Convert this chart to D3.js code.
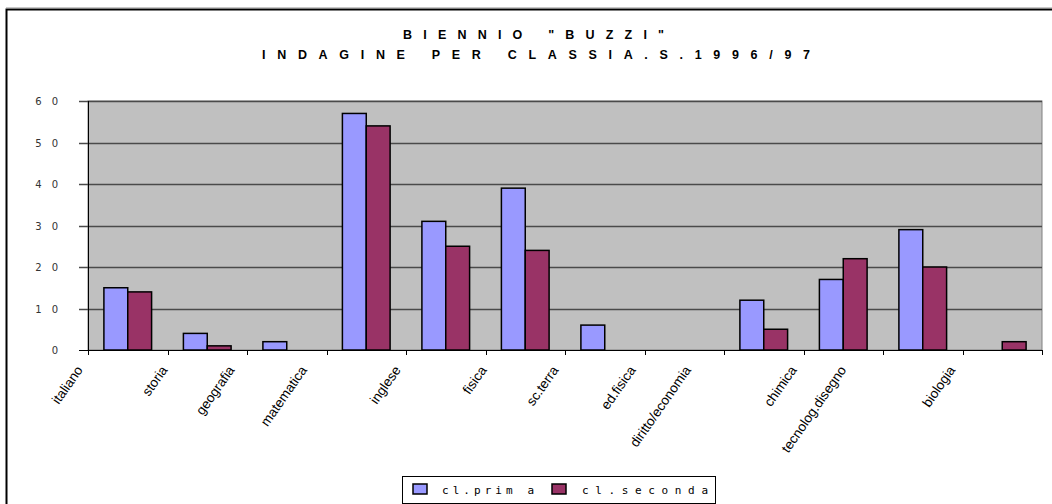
<!DOCTYPE html>
<html>
<head>
<meta charset="utf-8">
<script src="https://cdn.jsdelivr.net/npm/d3@7"></script>
<style>
  html, body { margin: 0; padding: 0; background: #fff; }
  svg { display: block; }
</style>
</head>
<body>
<svg id="chart" width="1052" height="504"></svg>
<script>
// Subjects (one group of bars per subject)
const categories = ["italiano", "storia", "geografia", "matematica", "inglese", "fisica",
  "sc.terra", "ed.fisica", "diritto/economia", "chimica", "tecnolog.disegno", "biologia"];
// Series values (null = no bar)
const clPrima   = [15, 4, 2, 57, 31, 39, 6, null, 12, 17, 29, null];
const clSeconda = [14, 1, null, 54, 25, 24, null, null, 5, 22, 20, 2];
const seriesNames = ["cl.prim a", "cl.seconda"];
const seriesColors = ["#9999FF", "#993366"];
const yTicks = [0, 10, 20, 30, 40, 50, 60];
const titleLines = ["BIENNIO \"BUZZI\"", "INDAGINE PER CLASSIA.S.1996/97"];

const svg = d3.select("#chart");

// Chart area frame (top and left edges visible)
svg.append("line").attr("x1", 6).attr("x2", 1052).attr("y1", 7.5).attr("y2", 7.5)
  .attr("stroke", "#c8c8c8").attr("stroke-width", 1);
svg.append("path").attr("d", "M6.5,504 V9.5 H1052")
  .attr("fill", "none").attr("stroke", "#000").attr("stroke-width", 2);

const plot = { left: 88, right: 1042, top: 101, bottom: 350 };

const x0 = d3.scaleBand().domain(categories).range([plot.left, plot.right]).padding(0);
const x1 = d3.scaleBand().domain(seriesNames)
  .range([x0.bandwidth() * 0.2, x0.bandwidth() * 0.8]).padding(0);
const y = d3.scaleLinear().domain([0, 60]).range([plot.bottom, plot.top]);

// Plot background
svg.append("rect")
  .attr("x", plot.left).attr("y", plot.top)
  .attr("width", plot.right - plot.left).attr("height", plot.bottom - plot.top)
  .attr("fill", "#C0C0C0").attr("stroke", "#808080").attr("stroke-width", 1);

// Horizontal gridlines with left tick marks
svg.append("g").selectAll("line").data(yTicks.filter(d => d > 0)).join("line")
  .attr("x1", plot.left - 9).attr("x2", plot.right)
  .attr("y1", d => Math.round(y(d)) + 0.5).attr("y2", d => Math.round(y(d)) + 0.5)
  .attr("stroke", "#4a4a4a").attr("stroke-width", 1.3);

// Y tick labels (spaced digits)
svg.append("g").selectAll("text").data(yTicks).join("text")
  .attr("x", 58).attr("y", d => y(d) + 4)
  .attr("text-anchor", "end")
  .attr("font-family", "DejaVu Sans, sans-serif").attr("font-size", 10)
  .attr("fill", "#333")
  .text(d => String(d).split("").join("\u2003"));

// Bars
const series = [clPrima, clSeconda];
const bars = [];
categories.forEach((c, i) => {
  series.forEach((s, k) => {
    if (s[i] != null) bars.push({ cat: c, name: seriesNames[k], value: s[i], color: seriesColors[k] });
  });
});
svg.append("g").selectAll("rect").data(bars).join("rect")
  .attr("x", d => x0(d.cat) + x1(d.name))
  .attr("y", d => y(d.value))
  .attr("width", x1.bandwidth())
  .attr("height", d => y(0) - y(d.value))
  .attr("fill", d => d.color)
  .attr("stroke", "#000").attr("stroke-width", 1.5);

// Axes lines
svg.append("line").attr("x1", plot.left - 9).attr("x2", plot.right)
  .attr("y1", plot.bottom + 0.5).attr("y2", plot.bottom + 0.5)
  .attr("stroke", "#000").attr("stroke-width", 1);
svg.append("line").attr("x1", plot.left + 0.5).attr("x2", plot.left + 0.5)
  .attr("y1", plot.top).attr("y2", plot.bottom + 5)
  .attr("stroke", "#000").attr("stroke-width", 1);

// X tick marks at category boundaries
const boundaries = categories.map(c => x0(c)).concat([plot.right]);
svg.append("g").selectAll("line").data(boundaries).join("line")
  .attr("x1", d => Math.round(d) + 0.5).attr("x2", d => Math.round(d) + 0.5)
  .attr("y1", plot.bottom).attr("y2", plot.bottom + 5)
  .attr("stroke", "#000").attr("stroke-width", 1);

// Rotated category labels; longer labels are pulled further left
const xl = svg.append("g").selectAll("text").data(categories).join("text")
  .attr("font-family", "Liberation Sans, Arial, sans-serif").attr("font-size", 13.5)
  .attr("fill", "#000")
  .attr("text-anchor", "end")
  .text(d => d);
xl.each(function (d) {
  const len = this.getComputedTextLength();
  const ax = x0(d) + 18 - 0.53 * len;
  const ay = plot.bottom + 20;
  d3.select(this).attr("transform", `translate(${ax},${ay}) rotate(-55)`);
});

// Title (wide letter spacing)
const titleWidths = [261, 548];
const titleStarts = [403, 262];
titleLines.forEach((t, i) => {
  svg.append("text")
    .attr("x", titleStarts[i]).attr("y", 39 + i * 20)
    .attr("font-family", "Liberation Sans, Arial, sans-serif").attr("font-size", 12.5)
    .attr("font-weight", "bold").attr("fill", "#000")
    .attr("textLength", titleWidths[i]).attr("lengthAdjust", "spacing")
    .text(t);
});

// Legend
const lg = svg.append("g");
lg.append("rect").attr("x", 402.5).attr("y", 476.5).attr("width", 313).attr("height", 27)
  .attr("fill", "#fff").attr("stroke", "#000").attr("stroke-width", 1);
const legendItems = [
  { name: seriesNames[0], color: seriesColors[0], sx: 413, tx: 442, tw: 92 },
  { name: seriesNames[1], color: seriesColors[1], sx: 552, tx: 582, tw: 126 }
];
legendItems.forEach(it => {
  lg.append("rect").attr("x", it.sx).attr("y", 484).attr("width", 14).attr("height", 10)
    .attr("fill", it.color).attr("stroke", "#000").attr("stroke-width", 1.5);
  lg.append("text").attr("x", it.tx).attr("y", 494)
    .attr("font-family", "DejaVu Sans Mono, monospace").attr("font-size", 11)
    .attr("fill", "#000")
    .attr("textLength", it.tw).attr("lengthAdjust", "spacing")
    .text(it.name);
});
</script>
</body>
</html>
